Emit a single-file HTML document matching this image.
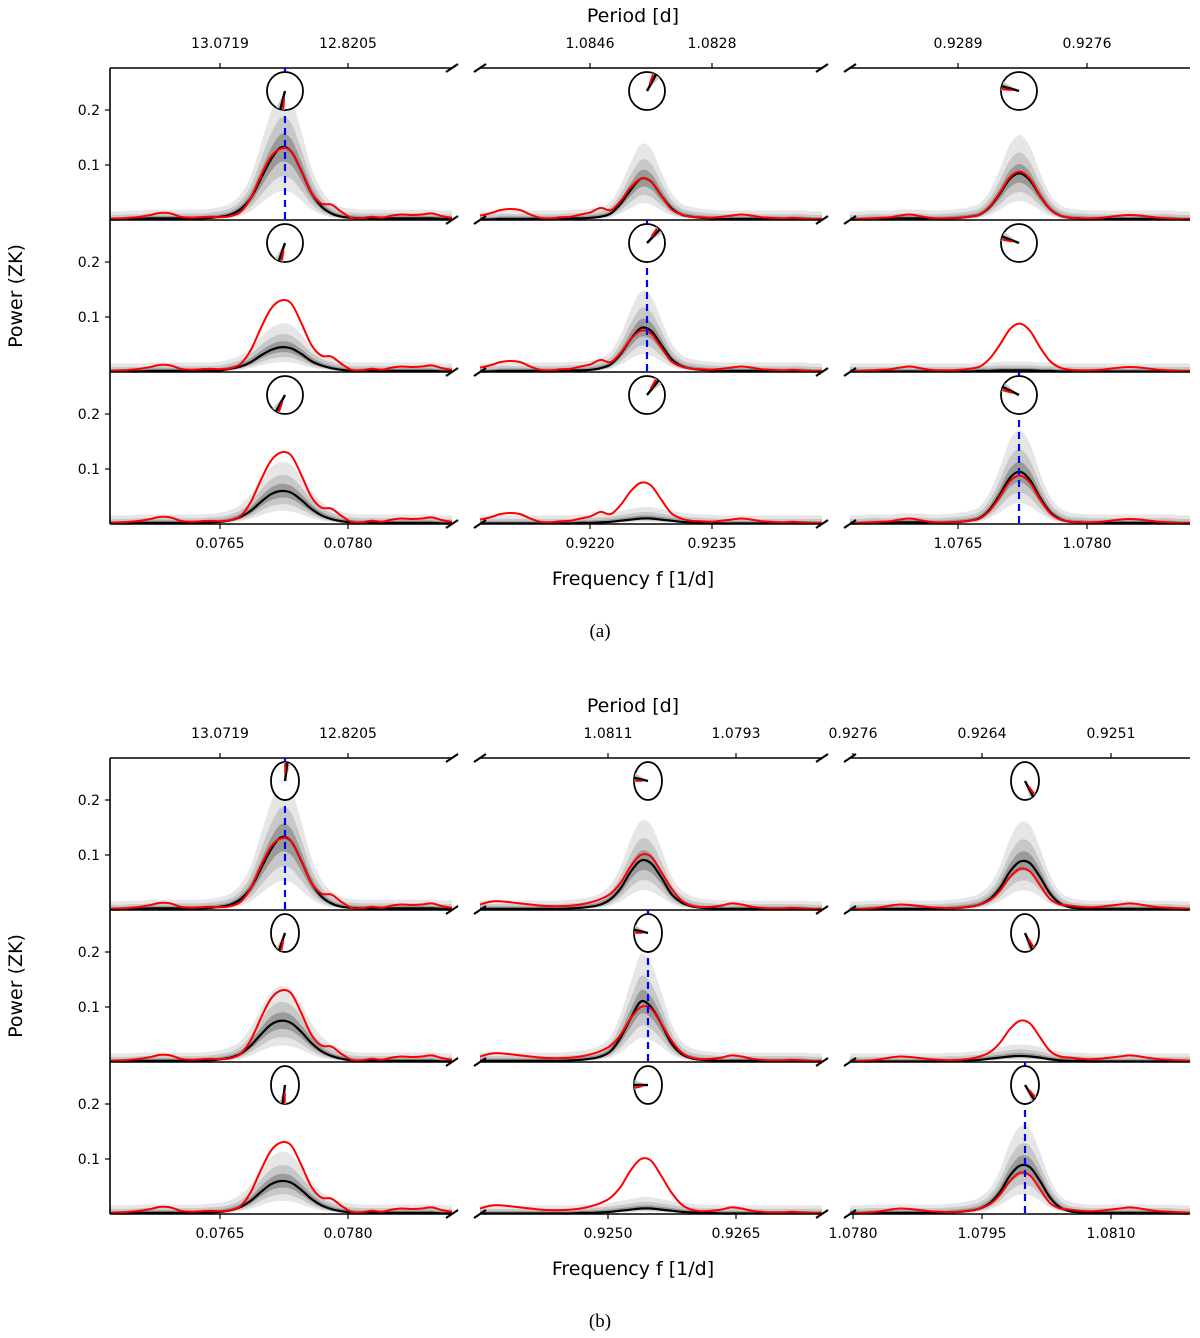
<!DOCTYPE html>
<html><head><meta charset="utf-8"><style>
body{margin:0;background:#fff}
svg{display:block;font-family:"DejaVu Sans","Liberation Sans",sans-serif}
</style></head><body>
<svg id="fig" width="1200" height="1338" viewBox="0 0 1200 1338" xmlns="http://www.w3.org/2000/svg"></svg>
<script>
// ---- data (power values on 35 uniform samples across each panel) ----
const redA1=[.002,.003,.004,.006,.009,.013,.012,.006,.004,.005,.006,.005,.007,.015,.04,.08,.115,.13,.125,.09,.05,.03,.028,.015,.004,.003,.006,.004,.008,.01,.009,.01,.012,.007,.004];
const redA2=[.008,.012,.018,.02,.018,.01,.004,.003,.005,.006,.01,.014,.022,.018,.035,.06,.075,.07,.045,.02,.01,.006,.005,.004,.006,.008,.01,.008,.005,.004,.003,.004,.003,.002,.002];
const redA3=[.002,.002,.003,.004,.005,.008,.01,.007,.004,.003,.003,.004,.006,.01,.025,.05,.078,.088,.075,.045,.02,.008,.004,.003,.003,.004,.006,.008,.009,.008,.006,.004,.003,.002,.002];
const redB2=[.01,.015,.016,.014,.012,.01,.008,.007,.007,.008,.01,.014,.02,.03,.05,.08,.1,.097,.07,.04,.018,.008,.005,.006,.008,.012,.01,.006,.004,.003,.003,.004,.003,.002,.002];
const redB3=[.002,.002,.003,.005,.008,.01,.009,.007,.005,.004,.003,.004,.006,.01,.018,.035,.06,.075,.07,.045,.02,.01,.008,.006,.005,.006,.008,.01,.012,.01,.007,.005,.004,.003,.002];
const blkA11=[.001,.001,.002,.002,.003,.003,.003,.003,.003,.003,.004,.006,.01,.02,.04,.075,.11,.132,.125,.09,.05,.025,.012,.006,.004,.003,.003,.003,.003,.003,.003,.003,.003,.002,.002];
const blkA21=[.001,.001,.001,.001,.002,.002,.002,.002,.002,.002,.002,.003,.006,.01,.018,.03,.04,.045,.043,.033,.02,.012,.007,.004,.002,.002,.002,.002,.002,.002,.002,.002,.002,.001,.001];
const blkA31=[.001,.001,.001,.002,.002,.002,.002,.002,.002,.002,.003,.004,.007,.013,.024,.04,.054,.06,.057,.044,.028,.016,.009,.005,.003,.002,.002,.002,.002,.002,.002,.002,.002,.001,.001];
const blkA12=[.001,.001,.002,.002,.002,.002,.002,.002,.002,.003,.003,.004,.006,.012,.03,.055,.075,.07,.045,.022,.01,.006,.004,.003,.002,.002,.002,.002,.002,.002,.002,.002,.002,.001,.001];
const blkA22=[.001,.001,.002,.002,.002,.002,.002,.002,.002,.003,.003,.004,.007,.014,.033,.06,.08,.075,.05,.024,.011,.006,.004,.003,.002,.002,.002,.002,.002,.002,.002,.002,.002,.001,.001];
const blkA32=[.001,.001,.001,.001,.001,.001,.001,.001,.001,.001,.002,.002,.003,.004,.006,.008,.01,.01,.008,.006,.004,.003,.002,.002,.001,.001,.001,.001,.001,.001,.001,.001,.001,.001,.001];
const blkA13=[.001,.001,.002,.002,.002,.003,.003,.003,.002,.002,.003,.004,.006,.01,.024,.048,.075,.085,.072,.044,.02,.008,.004,.003,.002,.002,.002,.002,.002,.002,.002,.002,.002,.001,.001];
const blkA23=[.001,.001,.001,.001,.001,.001,.001,.001,.001,.001,.001,.001,.001,.002,.002,.003,.003,.003,.003,.002,.002,.001,.001,.001,.001,.001,.001,.001,.001,.001,.001,.001,.001,.001,.001];
const blkA33=[.001,.001,.002,.002,.002,.003,.003,.003,.002,.002,.003,.004,.006,.011,.027,.054,.084,.095,.08,.048,.022,.009,.004,.003,.002,.002,.002,.002,.002,.002,.002,.002,.002,.001,.001];
const blkB21=[.001,.001,.001,.002,.002,.002,.002,.002,.002,.002,.003,.005,.008,.015,.03,.05,.068,.075,.071,.055,.035,.02,.011,.006,.003,.002,.002,.002,.002,.002,.002,.002,.002,.001,.001];
const blkB12=[.002,.002,.002,.002,.002,.002,.002,.002,.002,.003,.004,.006,.01,.02,.04,.07,.09,.085,.06,.03,.014,.007,.004,.003,.002,.002,.002,.002,.002,.002,.002,.002,.002,.001,.001];
const blkB22=[.002,.002,.002,.002,.002,.002,.002,.002,.002,.003,.004,.006,.01,.02,.045,.08,.11,.1,.07,.035,.015,.007,.004,.003,.002,.002,.002,.002,.002,.002,.002,.002,.002,.001,.001];
const blkB32=[.001,.001,.001,.001,.001,.001,.001,.001,.001,.001,.002,.002,.003,.004,.006,.008,.01,.01,.008,.006,.004,.003,.002,.002,.001,.001,.001,.001,.001,.001,.001,.001,.001,.001,.001];
const blkB13=[.001,.001,.002,.002,.002,.002,.002,.002,.002,.002,.003,.004,.006,.01,.02,.04,.07,.088,.085,.06,.03,.012,.005,.003,.002,.002,.002,.002,.002,.002,.002,.002,.002,.001,.001];
const blkB23=[.001,.001,.001,.001,.001,.001,.001,.001,.001,.001,.002,.002,.003,.004,.006,.008,.01,.011,.01,.008,.005,.003,.002,.002,.001,.001,.001,.001,.001,.001,.001,.001,.001,.001,.001];
const blkB33=[.001,.001,.002,.002,.002,.002,.002,.002,.002,.002,.003,.004,.006,.01,.02,.04,.07,.088,.085,.06,.03,.012,.005,.003,.002,.002,.002,.002,.002,.002,.002,.002,.002,.001,.001];
const yTicks=[0.1,0.2];
const bottomTicksA=[["0.0765","0.0780"],["0.9220","0.9235"],["1.0765","1.0780"]];
const bottomTicksB=[["0.0765","0.0780"],["0.9250","0.9265"],["1.0780","1.0795","1.0810"]];
const topTicksA=[["13.0719","12.8205"],["1.0846","1.0828"],["0.9289","0.9276"]];
const topTicksB=[["13.0719","12.8205"],["1.0811","1.0793"],["0.9276","0.9264","0.9251"]];
// phase angles (deg) of median (black) for each panel
const phaseA=[[-105,60,165],[-110,45,160],[-120,50,155]];
const phaseB=[[80,170,-55],[-115,170,-60],[-100,180,-50]];

const NS='http://www.w3.org/2000/svg';
const svg=document.getElementById('fig');
function el(tag,attrs,parent){const e=document.createElementNS(NS,tag);for(const k in attrs)e.setAttribute(k,attrs[k]);(parent||svg).appendChild(e);return e;}
function txt(s,x,y,size,anchor,parent,extra){const t=el('text',Object.assign({x:x,y:y,'font-size':size,'text-anchor':anchor||'middle',fill:'#000'},extra||{}),parent);t.textContent=s;return t;}
const colX=[[110,452],[480,822],[850,1190]];
const colTickPx={A:[[220,348],[590,712],[958,1087]],B:[[220,348],[608,736],[853,982,1111]]};
const peakX={A:[285,647,1019],B:[285,648,1025]};
const rowH=152;
function xScale(c,i){return colX[c][0]+i*(colX[c][1]-colX[c][0])/34;}
function yScale(top,v){return top+rowH-v*550;}
function smooth(pts){let d='M'+pts[0][0]+','+pts[0][1];for(let i=0;i<pts.length-1;i++){const p0=pts[i-1]||pts[i],p1=pts[i],p2=pts[i+1],p3=pts[i+2]||p2;d+=' C'+(p1[0]+(p2[0]-p0[0])/6)+','+(p1[1]+(p2[1]-p0[1])/6)+' '+(p2[0]-(p3[0]-p1[0])/6)+','+(p2[1]-(p3[1]-p1[1])/6)+' '+p2[0]+','+p2[1];}return d;}
function line(c,top,arr){return arr.map((v,i)=>[xScale(c,i),yScale(top,v)]);}
function band(c,top,arr,lo,hi,add){const up=arr.map((v,i)=>[xScale(c,i),yScale(top,v*hi+add)]);const dn=arr.map((v,i)=>[xScale(c,i),yScale(top,v*lo)]).reverse();const sd=smooth(dn);return smooth(up)+' L'+dn[0][0]+','+dn[0][1]+sd.slice(sd.indexOf(' C'))+' Z';}

function figure(key,top0,reds,blacks,phases,botT,topT,blue){
  const g=el('g',{});
  
  
  for(let r=0;r<3;r++)for(let c=0;c<3;c++){
    const top=top0+r*rowH, bk=blacks[r][c], pg=el('g',{},g);
    
    
    [[0.4,1.65,.014,'#e6e6e6'],[0.6,1.35,.008,'#c8c8c8'],[0.8,1.15,.004,'#9a9a9a']].forEach(b=>{
      const p=el('path',{d:band(c,top,bk,b[0],b[1],b[2]),fill:b[3],stroke:'none'},pg);
      
      
    });
    const bl=el('path',{d:smooth(line(c,top,bk)),fill:'none',stroke:'#000','stroke-width':2.2},pg);
    
    
    const rl=el('path',{d:smooth(line(c,top,reds[c])),fill:'none',stroke:'#f00','stroke-width':2},pg);
    
    
    const x0=colX[c][0],x1=colX[c][1],yb=top+rowH;
    el('line',{x1:x0,y1:yb,x2:x1,y2:yb,stroke:'#000','stroke-width':1.6},pg);
    if(r===0)el('line',{x1:x0,y1:top,x2:x1,y2:top,stroke:'#000','stroke-width':1.6},pg);
    const ys=r===0?[top,yb]:[yb];
    ys.forEach(y=>{
      if(c<2)el('line',{x1:x1-6,y1:y+4,x2:x1+6,y2:y-4,stroke:'#000','stroke-width':2},pg);
      if(c>0)el('line',{x1:x0-6,y1:y+4,x2:x0+6,y2:y-4,stroke:'#000','stroke-width':2},pg);
    });
    if(c===0){el('line',{x1:x0,y1:top,x2:x0,y2:yb,stroke:'#000','stroke-width':1.6},pg);
      yTicks.forEach(v=>{const y=yScale(top,v);el('line',{x1:x0-5,y1:y,x2:x0,y2:y,stroke:'#000','stroke-width':1.2},pg);const t=txt(String(v),x0-10,y+5,14,'end',pg);});}
    if(r===2)botT[c].forEach((s,k)=>{const x=colTickPx[key][c][k];el('line',{x1:x,y1:yb,x2:x,y2:yb+5,stroke:'#000','stroke-width':1.2},pg);const t=txt(s,x,yb+24,14,'middle',pg);});
    if(r===0)topT[c].forEach((s,k)=>{const x=colTickPx[key][c][k];el('line',{x1:x,y1:top-5,x2:x,y2:top,stroke:'#000','stroke-width':1.2},pg);const t=txt(s,x,top-20,14,'middle',pg);});
    const cx=peakX[key][c], cy=top+23, rx=key==='A'?18:14, ry=19;
    if(blue[r]===c){const bd=el('line',{x1:cx,y1:top,x2:cx,y2:yb,stroke:'#00f','stroke-width':2.2,'stroke-dasharray':'7,5'},pg);}
    const ci=el('ellipse',{cx:cx,cy:cy,rx:rx,ry:ry,fill:'#fff',stroke:'#000','stroke-width':1.8},pg);
    
    
    const a=phases[r][c]*Math.PI/180;
    el('path',{d:'M'+cx+','+cy+' L'+(cx+rx*Math.cos(a-0.25))+','+(cy-ry*Math.sin(a-0.25))+' L'+(cx+rx*Math.cos(a+0.25))+','+(cy-ry*Math.sin(a+0.25))+'Z',fill:'#c8c8c8'},pg);
    el('line',{x1:cx,y1:cy,x2:cx+rx*Math.cos(a),y2:cy-ry*Math.sin(a),stroke:'#000','stroke-width':2.4},pg);
    el('line',{x1:cx+rx*0.4*Math.cos(a+0.15),y1:cy-ry*0.4*Math.sin(a+0.15),x2:cx+rx*0.95*Math.cos(a+0.15),y2:cy-ry*0.95*Math.sin(a+0.15),stroke:'#f00','stroke-width':2},pg);
  }
  const t1=txt('Period [d]',633,top0-46,19,'middle',g);
  const t2=txt('Frequency f [1/d]',633,top0+517,19,'middle',g);
  const t3=txt('Power (ZK)',0,0,19,'middle',g,{transform:'translate(22,'+(top0+228)+') rotate(-90)'});
  const t4=txt('('+key.toLowerCase()+')',600,top0+569,19,'middle',g,{'font-family':'Liberation Serif, serif'});
}
figure('A',68,[redA1,redA2,redA3],[[blkA11,blkA12,blkA13],[blkA21,blkA22,blkA23],[blkA31,blkA32,blkA33]],phaseA,bottomTicksA,topTicksA,[0,1,2]);
figure('B',758,[redA1,redB2,redB3],[[blkA11,blkB12,blkB13],[blkB21,blkB22,blkB23],[blkA31,blkB32,blkB33]],phaseB,bottomTicksB,topTicksB,[0,1,2]);
</script>
</body></html>
